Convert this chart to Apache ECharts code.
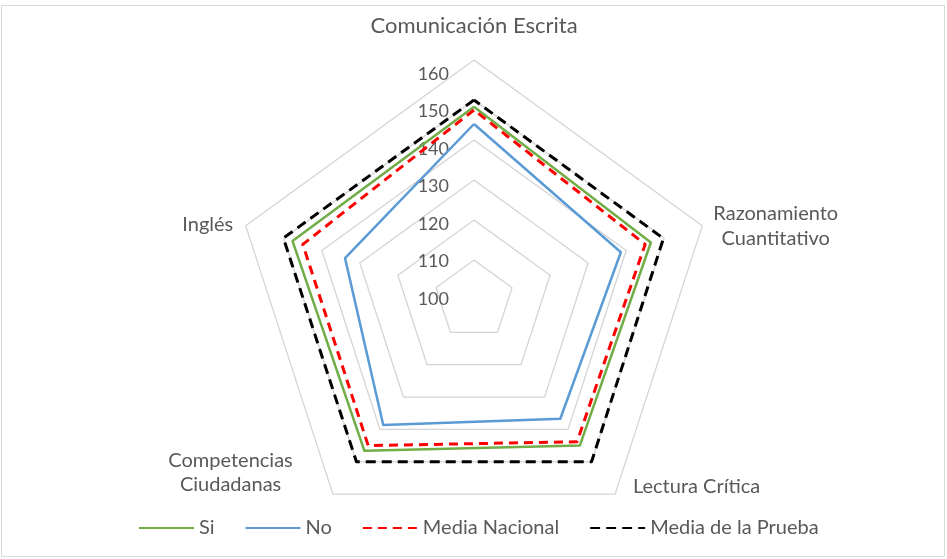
<!DOCTYPE html>
<html>
<head>
<meta charset="utf-8">
<script src="https://cdn.jsdelivr.net/npm/echarts@6/dist/echarts.min.js"></script>
<style>
html,body{margin:0;padding:0;background:#fff;}
#chart{width:947px;height:559px;}
</style>
</head>
<body>
<div id="chart"></div>
<script>
// Indicators in ECharts order (counter-clockwise from top)
const indicatorNames = ['Comunicación Escrita', 'Inglés', 'Competencias Ciudadanas', 'Lectura Crítica', 'Razonamiento Cuantitativo'];
const tickLabels = ['100', '110', '120', '130', '140', '150', '160'];
const seriesNames = ['Si', 'No', 'Media Nacional', 'Media de la Prueba'];
const siValues = [148.3, 147.7, 146.6, 145.0, 146.5];
const noValues = [144.0, 133.9, 138.6, 136.7, 138.6];
const mediaNacional = [147.5, 145.0, 145.0, 143.8, 145.0];
const mediaPrueba = [150.0, 150.1, 150.0, 150.0, 149.8];

const FONT = 'Lato';
const TXT = '#595959';
const seriesStyles = [
  {color: '#70AD47', width: 2.5, type: 'solid'},
  {color: '#5B9BD5', width: 2.5, type: 'solid'},
  {color: '#FF0000', width: 3, type: [9, 6]},
  {color: '#000000', width: 3, type: [10, 6]}
];

const chart = echarts.init(document.getElementById('chart'), null, {renderer: 'canvas'});

const nameRich = {
  t: {fontSize: 22, lineHeight: 24, fontFamily: FONT, color: TXT},
  tsp: {fontSize: 1, lineHeight: 12},
  r: {fontSize: 20, lineHeight: 25, fontFamily: FONT, color: TXT, width: 128, align: 'center'},
  rsp: {fontSize: 1, lineHeight: 6},
  lc: {fontSize: 20, lineHeight: 25, fontFamily: FONT, color: TXT, padding: [0, 0, 32, 12]},
  cc: {fontSize: 20, lineHeight: 24, fontFamily: FONT, color: TXT, width: 193, align: 'center'},
  ccsp: {fontSize: 1, lineHeight: 60},
  ing: {fontSize: 20, lineHeight: 25, fontFamily: FONT, color: TXT, padding: [4, 3, 0, 0]}
};

function fmtName(name) {
  if (name === 'Comunicación Escrita') return '{t|' + name + '}\n{tsp| }';
  if (name === 'Razonamiento Cuantitativo') return '{rsp| }\n{r|Razonamiento}\n{r|Cuantitativo}';
  if (name === 'Lectura Crítica') return '{lc|' + name + '}';
  if (name === 'Competencias Ciudadanas') return '{cc|Competencias}\n{cc|Ciudadanas}\n{ccsp| }';
  if (name === 'Inglés') return '{ing|' + name + '}';
  return name;
}

// Empty line series only provide line-shaped legend keys (no data, no marks)
const legendKeySeries = seriesNames.map((n, i) => ({
  type: 'line', name: n, data: [], symbol: 'none', showSymbol: false,
  xAxisIndex: 0, yAxisIndex: 0,
  lineStyle: seriesStyles[i], itemStyle: {color: seriesStyles[i].color}
}));

const option = {
  backgroundColor: '#ffffff',
  animation: false,
  graphic: [{
    type: 'rect',
    shape: {x: 1.5, y: 5.5, width: 943, height: 551},
    style: {fill: 'none', stroke: '#d9d9d9', lineWidth: 1},
    silent: true
  }],
  legend: {
    data: seriesNames,
    left: 133,
    top: 513,
    itemWidth: 55,
    itemHeight: 14,
    itemGap: 30,
    itemStyle: {opacity: 0},
    textStyle: {fontFamily: FONT, fontSize: 20, color: TXT}
  },
  grid: {left: 457, top: 74, width: 10, height: 225, show: false},
  xAxis: {type: 'value', show: false, min: 0, max: 1},
  yAxis: {
    type: 'value',
    min: 100, max: 160, interval: 10,
    axisLine: {show: false}, axisTick: {show: false}, splitLine: {show: false},
    axisLabel: {
      margin: 8, fontFamily: FONT, fontSize: 18, color: TXT,
      formatter: function (v) { const i = Math.round((v - 100) / 10); return tickLabels[i]; }
    }
  },
  radar: {
    center: [474, 300],
    radius: 240,
    startAngle: 90,
    splitNumber: 6,
    shape: 'polygon',
    indicator: indicatorNames.map(n => ({name: n, min: 100, max: 160})),
    nameGap: 10,
    axisName: {formatter: fmtName, rich: nameRich, color: TXT},
    axisLine: {show: false},
    axisTick: {show: false},
    axisLabel: {show: false},
    splitLine: {lineStyle: {color: '#d4d4d4', width: 1.3}},
    splitArea: {show: false}
  },
  series: [{
    type: 'radar',
    symbol: 'none',
    data: [
      {name: seriesNames[0], value: siValues, lineStyle: seriesStyles[0], itemStyle: {color: seriesStyles[0].color}},
      {name: seriesNames[1], value: noValues, lineStyle: seriesStyles[1], itemStyle: {color: seriesStyles[1].color}},
      {name: seriesNames[2], value: mediaNacional, lineStyle: seriesStyles[2], itemStyle: {color: seriesStyles[2].color}},
      {name: seriesNames[3], value: mediaPrueba, lineStyle: seriesStyles[3], itemStyle: {color: seriesStyles[3].color}}
    ]
  }].concat(legendKeySeries)
};
chart.setOption(option);
</script>
</body>
</html>
